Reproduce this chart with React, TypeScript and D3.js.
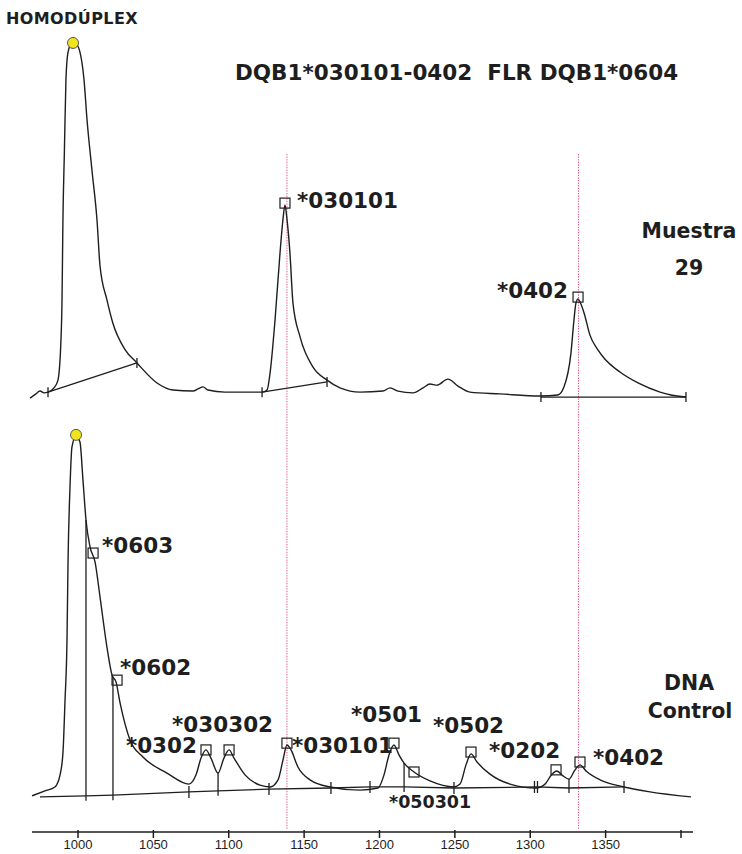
import React from 'react';
import * as d3 from 'd3';

// retention position vs. detector signal
const sampleTrace: [number, number][] = [
  [968.2, -0.6], [972.1, 0.6], [974.8, 1.4], [977.4, 0.9], [980.1, 1.1], [984.1, 2.3],
  [986.7, 4.5], [988.7, 15.9], [989.4, 27.3], [990, 50], [991, 69.9], [992, 89.8],
  [993.4, 97.7], [996, 100.3], [998.7, 100], [1001.3, 97.7], [1004, 89.8], [1006, 78.4],
  [1009.3, 64], [1012.6, 50], [1014.6, 37], [1019.2, 27.3], [1023.2, 20.6], [1031.2, 13.2],
  [1039.1, 9.4], [1052.4, 3.7], [1063, 1.7], [1076.3, 1.4], [1079.6, 2], [1082.9, 2.6],
  [1086.2, 1.7], [1097.5, 1.1], [1117.4, 1.1], [1122.1, 1.1], [1125.4, 1.7], [1127.4, 6.5],
  [1130.7, 21.6], [1134, 40.6], [1136, 50.3], [1137.3, 54.3], [1138.6, 50.3], [1140.6, 40.6],
  [1142.6, 26.4], [1147.3, 16.8], [1155.9, 8.2], [1165.2, 4.5], [1173.8, 2.3], [1187.1, 1.1],
  [1202.3, 1.4], [1207, 2.3], [1212.3, 1.4], [1222.2, 0.9], [1228.9, 2.3], [1233.5, 3.4],
  [1238.1, 3.1], [1245.4, 4.8], [1252.1, 2.8], [1260, 1.1], [1279.9, 0.6], [1306.5, 0],
  [1318.4, 0.3], [1322.4, 2.6], [1327, 12.2], [1329, 21.6], [1330.3, 26.4], [1331.7, 27.6],
  [1333, 26.7], [1335.7, 23.6], [1339.6, 17.3], [1344.9, 13.1], [1348.9, 10.8], [1359.5, 6.8],
  [1371.5, 3.7], [1386.1, 1.1], [1393.4, 0.3], [1403.3, -0.3],
];

const controlTrace: [number, number][] = [
  [969.5, -0.8], [978.1, 0.6], [984.7, 1.7], [988.1, 5.1], [990, 11.2], [991.4, 26.1],
  [992.7, 43], [993.4, 65.4], [994.7, 86], [996, 97.2], [998.7, 100.3], [1001.3, 98.6],
  [1003.3, 87.9], [1005.3, 76.7], [1008, 69.1], [1011.3, 64.9], [1014.6, 55.1], [1019.2, 41],
  [1022.6, 33.1], [1025.2, 31.2], [1027.9, 25.3], [1034.5, 14.9], [1043.1, 10.1], [1059, 5.6],
  [1073.6, 2.5], [1078.3, 5.1], [1081.6, 9.8], [1084.9, 12.1], [1088.2, 9.8], [1092.9, 5.6],
  [1096.8, 9.8], [1100.2, 12.1], [1103.5, 9.8], [1110.8, 5.1], [1120.7, 2.2], [1127.4, 1.7],
  [1132.7, 3.7], [1136, 9.3], [1138.6, 13.5], [1141.3, 12.1], [1145.9, 7.3], [1153.9, 3.7],
  [1167.2, 1.7], [1187.1, 0.8], [1199, 1.4], [1203, 5.1], [1206.3, 10.7], [1209.6, 13.5],
  [1212.9, 10.7], [1216.3, 8.4], [1222.9, 5.9], [1233.5, 3.4], [1249.4, 1.7], [1253.4, 2.5],
  [1257.4, 7.9], [1260.7, 11], [1264.7, 8.7], [1273.3, 5.3], [1286.6, 2.5], [1303.8, 1.4],
  [1309.8, 2.5], [1314.4, 5.3], [1317.7, 6.2], [1321.7, 4.8], [1325.7, 3.9], [1329.7, 6.5],
  [1333, 7.9], [1337, 6.2], [1346.3, 3.7], [1362.2, 1.7], [1379.4, 0.3], [1406.6, -1.1],
];

// integration baselines (pairs of end points) for the sample run
const sampleBaselines: [number, number][][] = [
  [[980.1, 1.1], [1039.1, 9.4]],
  [[1122.1, 1.1], [1165.2, 4.0]],
  [[1307.1, -0.3], [1403.3, -0.3]],
];

// control run baseline, drawn through its cut points
const controlBaseline: [number, number][] = [
  [974.8, -1.1], [1005.3, -0.8], [1023.2, -0.6], [1073.6, 0.3], [1092.9, 0.6], [1126.7, 1.1],
  [1167.8, 1.4], [1193.7, 1.7], [1216.3, 1.7], [1249.4, 1.4], [1303.8, 1.7], [1325.7, 1.4],
  [1362.2, 1.7],
];
const controlDrops = [1005.3, 1023.2, 1092.9, 1216.3, 1325.7];
const controlTicks = [1073.6, 1126.7, 1167.8, 1193.7, 1249.4, 1302.8, 1304.8, 1362.2];

const homoduplexSample: [number, number] = [996.7, 100.3];
const homoduplexControl: [number, number] = [998.7, 100.6];

const samplePeaks = [
  { name: '*030101', pos: 1137.3, height: 54.8 },
  { name: '*0402', pos: 1331.7, height: 28.1 },
];
const controlPeaks = [
  { name: '*0603', pos: 1010, height: 67.4 },
  { name: '*0602', pos: 1025.9, height: 31.7 },
  { name: '*0302', pos: 1084.9, height: 12.1 },
  { name: '*030302', pos: 1100.2, height: 12.1 },
  { name: '*030101', pos: 1138.6, height: 14 },
  { name: '*0501', pos: 1209.6, height: 14 },
  { name: '*050301', pos: 1222.9, height: 5.9 },
  { name: '*0502', pos: 1260.7, height: 11.5 },
  { name: '*0202', pos: 1317.1, height: 6.5 },
  { name: '*0402', pos: 1333, height: 8.7 },
];
const referenceLines = [1138.6, 1332];
const axisTicks = [1000, 1050, 1100, 1150, 1200, 1250, 1300, 1350, 1400];
const tickLabels = ['1000', '1050', '1100', '1150', '1200', '1250', '1300', '1350', ''];

// label placement (px offsets from the marker, anchor)
const sampleLabelPos: [number, number, string][] = [[12, 5, 'start'], [-10, 1, 'end']];
const controlLabelPos: [number, number, string][] = [
  [9, 0, 'start'], [3, -5, 'start'], [-9, 3, 'end'], [-57, -18, 'start'], [5, 10, 'start'],
  [-43, -21, 'start'], [-25, 36, 'start'], [-38, -19, 'start'], [-67, -12, 'start'], [13, 3, 'start'],
];

const W = 742;
const H = 854;
const INK = '#1e1e1e';
const FONT = "'DejaVu Sans', Verdana, sans-serif";

export default function App() {
  const x = d3.scaleLinear().domain([1000, 1400]).range([78, 681]);
  const yTop = d3.scaleLinear().domain([0, 100]).range([396, 44]);
  const yBot = d3.scaleLinear().domain([0, 100]).range([793, 437]);

  const lineTop = d3.line<[number, number]>().x(d => x(d[0])).y(d => yTop(d[1])).curve(d3.curveMonotoneX);
  const lineBot = d3.line<[number, number]>().x(d => x(d[0])).y(d => yBot(d[1])).curve(d3.curveMonotoneX);
  const straightTop = d3.line<[number, number]>().x(d => x(d[0])).y(d => yTop(d[1]));
  const straightBot = d3.line<[number, number]>().x(d => x(d[0])).y(d => yBot(d[1]));

  const interp = (trace: [number, number][], v: number) => {
    const i = d3.bisector((d: [number, number]) => d[0]).left(trace, v);
    const a = trace[Math.max(0, i - 1)];
    const b = trace[Math.min(trace.length - 1, i)];
    if (a[0] === b[0]) return a[1];
    return a[1] + ((b[1] - a[1]) * (v - a[0])) / (b[0] - a[0]);
  };

  const axisY = 832;
  const sq = 10;

  return (
    <svg width={W} height={H} style={{ position: 'absolute', left: 0, top: 0, background: '#fff' }}>
      <rect width={W} height={H} fill="#fff" />

      {/* reference dotted lines */}
      {referenceLines.map((r, i) => (
        <line key={i} x1={x(r)} x2={x(r)} y1={154} y2={829} stroke="#e0567a" strokeWidth={1} strokeDasharray="1.3 1.3" />
      ))}

      {/* sample run */}
      <path d={lineTop(sampleTrace) || ''} fill="none" stroke={INK} strokeWidth={1.4} />
      {sampleBaselines.map((seg, i) => (
        <g key={i}>
          <path d={straightTop(seg) || ''} fill="none" stroke={INK} strokeWidth={1.3} />
          {seg.map((p, j) => (
            <line key={j} x1={x(p[0])} x2={x(p[0])} y1={yTop(p[1]) - 5} y2={yTop(p[1]) + 5} stroke={INK} strokeWidth={1.3} />
          ))}
        </g>
      ))}

      {/* control run */}
      <path d={lineBot(controlTrace) || ''} fill="none" stroke={INK} strokeWidth={1.4} />
      <path d={straightBot(controlBaseline) || ''} fill="none" stroke={INK} strokeWidth={1.3} />
      {controlDrops.map((d, i) => {
        const base = interp(controlBaseline, d);
        return (
          <line key={i} x1={x(d)} x2={x(d)} y1={yBot(interp(controlTrace, d))} y2={yBot(base) + 5} stroke={INK} strokeWidth={1.3} />
        );
      })}
      {controlTicks.map((d, i) => {
        const base = interp(controlBaseline, d);
        return <line key={i} x1={x(d)} x2={x(d)} y1={yBot(base) - 6} y2={yBot(base) + 6} stroke={INK} strokeWidth={1.3} />;
      })}

      {/* markers */}
      <circle cx={x(homoduplexSample[0])} cy={yTop(homoduplexSample[1])} r={5.5} fill="#f2e41c" stroke="#555" strokeWidth={1} />
      <circle cx={x(homoduplexControl[0])} cy={yBot(homoduplexControl[1])} r={5.5} fill="#f2e41c" stroke="#555" strokeWidth={1} />
      {samplePeaks.map((p, i) => {
        const cx = x(p.pos);
        const cy = yTop(p.height);
        const [dx, dy, anchor] = sampleLabelPos[i];
        return (
          <g key={i}>
            <rect x={cx - sq / 2} y={cy - sq / 2} width={sq} height={sq} fill="none" stroke={INK} strokeWidth={1.2} />
            <text x={cx + dx} y={cy + dy} textAnchor={anchor as any} fontFamily={FONT} fontWeight="bold" fontSize={21.5} fill={INK}>{p.name}</text>
          </g>
        );
      })}
      {controlPeaks.map((p, i) => {
        const cx = x(p.pos);
        const cy = yBot(p.height);
        const [dx, dy, anchor] = controlLabelPos[i];
        return (
          <g key={i}>
            <rect x={cx - sq / 2} y={cy - sq / 2} width={sq} height={sq} fill="none" stroke={INK} strokeWidth={1.2} />
            <text x={cx + dx} y={cy + dy} textAnchor={anchor as any} fontFamily={FONT} fontWeight="bold"
              fontSize={p.name === '*050301' ? 17.5 : 21.5} fill={INK}>{p.name}</text>
          </g>
        );
      })}

      {/* x axis */}
      <line x1={32} x2={693} y1={axisY} y2={axisY} stroke={INK} strokeWidth={1.6} />
      {axisTicks.map((t, i) => (
        <g key={t} transform={`translate(${x(t)},0)`}>
          <line y1={axisY - 2} y2={axisY + 6} stroke={INK} strokeWidth={1.5} />
          <text y={849} textAnchor="middle" fontFamily="'Liberation Sans Narrow', 'Arial Narrow', sans-serif" fontSize={13} fill={INK}>{tickLabels[i]}</text>
        </g>
      ))}

      {/* titles */}
      <text x={6} y={24} fontFamily={FONT} fontWeight="bold" fontSize={16} letterSpacing={0.4} fill={INK}>HOMODÚPLEX</text>
      <text x={235} y={80} fontFamily={FONT} fontWeight="bold" fontSize={21.5} fill={INK} style={{ whiteSpace: 'pre' }}>DQB1*030101-0402  FLR DQB1*0604</text>
      <text x={689} y={238} textAnchor="middle" fontFamily={FONT} fontWeight="bold" fontSize={20.5} fill={INK}>Muestra</text>
      <text x={689} y={275} textAnchor="middle" fontFamily={FONT} fontWeight="bold" fontSize={20.5} fill={INK}>29</text>
      <text x={689} y={690} textAnchor="middle" fontFamily={FONT} fontWeight="bold" fontSize={20.5} fill={INK}>DNA</text>
      <text x={690} y={718} textAnchor="middle" fontFamily={FONT} fontWeight="bold" fontSize={20.5} fill={INK}>Control</text>
    </svg>
  );
}
